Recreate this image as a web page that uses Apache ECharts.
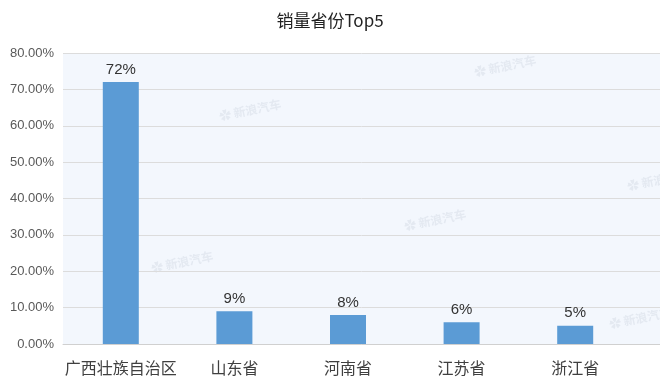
<!DOCTYPE html>
<html><head><meta charset="utf-8">
<script src="https://cdn.jsdelivr.net/npm/echarts@6/dist/echarts.min.js"></script>
<style>html,body{margin:0;padding:0;background:#fff}#c{width:660px;height:389px}</style>
</head><body><div id="c"></div>
<script>
var categories = ['广西壮族自治区', '山东省', '河南省', '江苏省', '浙江省'];
var values = [72, 9, 8, 6, 5];
var yTicks = [0, 10, 20, 30, 40, 50, 60, 70, 80];
var title = '销量省份Top5';
var watermarks = [[250,110],[505,66],[435,220],[182,262],[658,180],[640,318]];

var chart = echarts.init(document.getElementById('c'));
var font = '"Microsoft YaHei","Noto Sans CJK SC",sans-serif';
var yMin = yTicks[0], yMax = yTicks[yTicks.length-1];
chart.setOption({
  animation: false,
  title: {text: title, left: 'center', top: 7, textStyle: {fontSize: 17, fontWeight: 'normal', color: '#222', fontFamily: font}},
  grid: [
    {left: 63, right: 0, top: 53, bottom: 45, show: true, backgroundColor: '#f3f7fd', borderWidth: 0},
    {left: 64, width: 568, top: 53, bottom: 45}
  ],
  xAxis: [
    {gridIndex: 0, type: 'category', data: categories,
      axisLine: {lineStyle: {color: '#d0d0d0'}}, axisTick: {show: false}, axisLabel: {show: false}},
    {gridIndex: 1, type: 'category', data: categories,
      axisLine: {show: false}, axisTick: {show: false},
      axisLabel: {fontSize: 16, color: '#404040', margin: 16, fontFamily: font, interval: 0}}
  ],
  yAxis: [
    {gridIndex: 0, type: 'value', min: yMin, max: yMax, interval: 10,
      axisLine: {show: false}, axisTick: {show: false},
      splitLine: {lineStyle: {color: '#dcdcdc'}},
      axisLabel: {fontSize: 13, color: '#595959', margin: 9, fontFamily: 'Arial, sans-serif', formatter: function(v){return v.toFixed(2)+'%';}}},
    {gridIndex: 1, type: 'value', min: yMin, max: yMax, interval: 10, show: false}
  ],
  series: [{type: 'bar', xAxisIndex: 1, yAxisIndex: 1, data: values, barWidth: 36,
    itemStyle: {color: '#5b9bd5'},
    label: {show: true, position: 'top', fontSize: 15, color: '#333', distance: 5, fontFamily: 'Arial, sans-serif', formatter: '{c}%'}}],
  graphic: watermarks.map(function(p){return {type:'text', x:p[0], y:p[1], rotation: 0.2, silent: true,
    style:{text:'✿ 新浪汽车', fill:'rgba(150,160,180,0.16)', font:'bold 12px "Noto Sans CJK SC"', textAlign:'center', textVerticalAlign:'middle'}};})
});
</script></body></html>
